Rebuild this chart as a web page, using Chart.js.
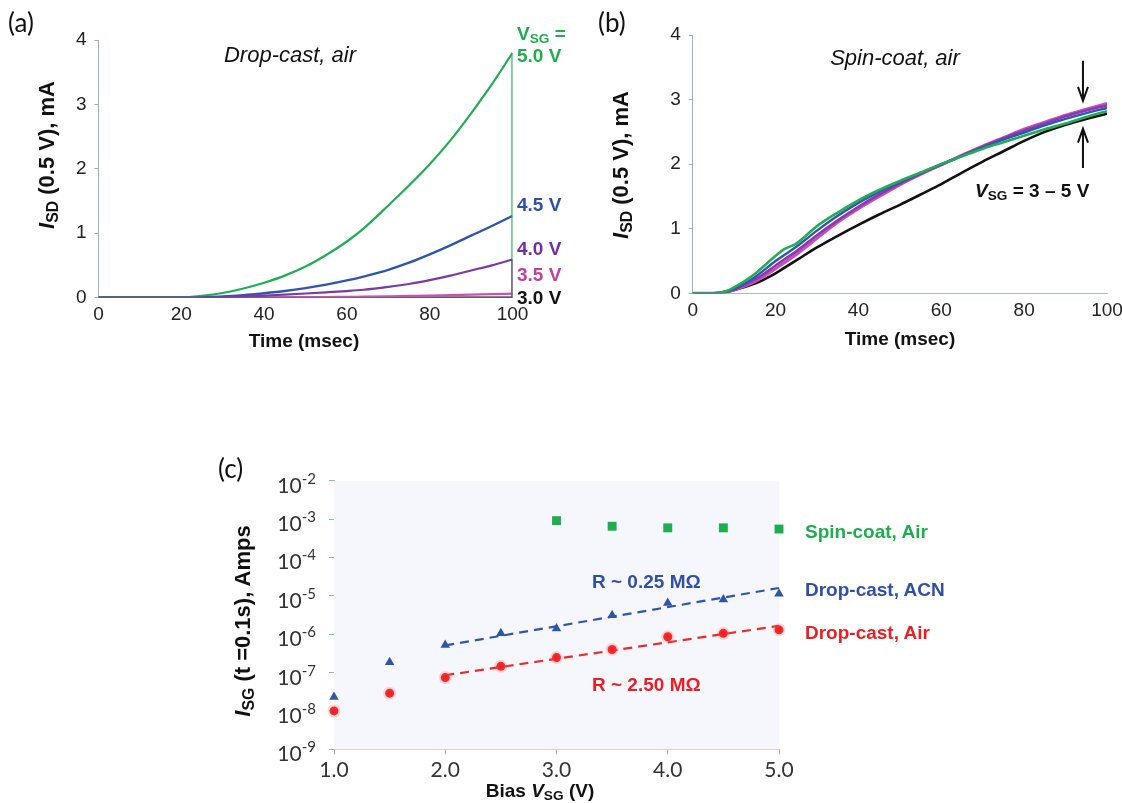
<!DOCTYPE html>
<html><head><meta charset="utf-8">
<script src="https://cdn.jsdelivr.net/npm/chart.js@4/dist/chart.umd.min.js"></script>
<style>
html,body{margin:0;padding:0;background:#fff;}
body{width:1122px;height:803px;overflow:hidden;position:relative;font-family:"Liberation Sans",Arial,sans-serif;color:#111;}
canvas{position:absolute;}
.t{position:absolute;white-space:nowrap;line-height:1;transform:translate(-50%,-50%);}
.l{position:absolute;white-space:nowrap;line-height:1;transform:translate(0,-50%);}
.rot{transform:translate(-50%,-50%) rotate(-90deg);}
.b{font-weight:bold;}
.pl{font-family:Lato,"Open Sans",sans-serif;font-size:26px;}
sub{font-size:0.72em;vertical-align:-0.28em;line-height:0;}
</style></head><body>
<canvas id="ca"></canvas>
<canvas id="cb"></canvas>
<canvas id="cc"></canvas>

<!-- panel (a) texts -->
<div class="l pl" style="left:8px;top:22px;">(a)</div>
<div class="t rot b" style="left:47px;top:155px;font-size:22px;"><i>I</i><sub>SD</sub> (0.5 V), mA</div>
<div class="t b" style="left:304px;top:340px;font-size:19px;">Time (msec)</div>
<div class="t" style="left:290px;top:55px;font-size:22px;font-style:italic;">Drop-cast, air</div>
<div class="l b" style="left:517px;top:33px;font-size:19px;color:#1fae4f;">V<sub>SG</sub> =</div>
<div class="l b" style="left:517px;top:55px;font-size:19px;color:#1fae4f;">5.0 V</div>
<div class="l b" style="left:517px;top:204px;font-size:19px;color:#2f4fa8;">4.5 V</div>
<div class="l b" style="left:517px;top:248px;font-size:19px;color:#7030a0;">4.0 V</div>
<div class="l b" style="left:517px;top:274px;font-size:19px;color:#c040a0;">3.5 V</div>
<div class="l b" style="left:517px;top:297px;font-size:19px;color:#111;">3.0 V</div>

<!-- panel (b) texts -->
<div class="l pl" style="left:598px;top:22px;">(b)</div>
<div class="t rot b" style="left:621px;top:165px;font-size:22px;"><i>I</i><sub>SD</sub> (0.5 V), mA</div>
<div class="t b" style="left:900px;top:338px;font-size:19px;">Time (msec)</div>
<div class="t" style="left:895px;top:58px;font-size:22px;font-style:italic;">Spin-coat, air</div>
<div class="l b" style="left:975px;top:190px;font-size:19px;"><i>V</i><sub>SG</sub> = 3 – 5 V</div>

<!-- panel (c) texts -->
<div class="l pl" style="left:218px;top:468px;">(c)</div>
<div class="t rot b" style="left:243px;top:621px;font-size:22px;"><i>I</i><sub>SG</sub> (t =0.1s), Amps</div>
<div class="t b" style="left:540px;top:790px;font-size:19px;">Bias <i>V</i><sub>SG</sub> (V)</div>
<div class="l b" style="left:805px;top:531px;font-size:19px;color:#1fae4f;">Spin-coat, Air</div>
<div class="l b" style="left:805px;top:589px;font-size:19px;color:#2f4fa8;">Drop-cast, ACN</div>
<div class="l b" style="left:805px;top:632px;font-size:19px;color:#ee1c24;">Drop-cast, Air</div>
<div class="l b" style="left:592px;top:581px;font-size:19px;color:#2f4fa8;">R ~ 0.25 MΩ</div>
<div class="l b" style="left:592px;top:684px;font-size:19px;color:#ee1c24;">R ~ 2.50 MΩ</div>

<script>
// ---------------- DATA ----------------
// Panel (a): Drop-cast, air  (time in msec, I_SD in mA)
const timeA = [0,5,10,15,20,25,30,35,40,45,50,55,60,64,70,75,80,85,90,95,100];
const a30 = [0,0,0,0,0,0,0,0,0,0,0,0,0,0,0,0,0,0,0,0,0];
const a35 = [0,0,0,0,0,0,0,0,0.002,0.004,0.006,0.008,0.011,0.013,0.018,0.024,0.03,0.037,0.045,0.052,0.06];
const a40 = [0,0,0,0,0,0.002,0.006,0.015,0.03,0.045,0.062,0.08,0.1,0.12,0.165,0.21,0.27,0.34,0.42,0.5,0.59];
const a45 = [0,0,0,0,0,0.005,0.015,0.035,0.065,0.1,0.145,0.2,0.265,0.325,0.43,0.54,0.67,0.81,0.96,1.11,1.27];
const a50 = [0,0,0,0,0,0.025,0.07,0.14,0.23,0.34,0.48,0.66,0.87,1.07,1.43,1.74,2.07,2.44,2.86,3.31,3.8];

// Panel (b): Spin-coat, air
const timeB = [0,5,8,10,15,20,22,25,30,35,40,45,50,55,60,65,70,75,80,85,90,95,100];
const b30 = [0,0,0.02,0.05,0.15,0.31,0.39,0.51,0.71,0.89,1.06,1.22,1.37,1.53,1.69,1.87,2.04,2.2,2.36,2.5,2.61,2.7,2.78];
const b35 = [0,0,0.02,0.05,0.18,0.38,0.47,0.6,0.85,1.1,1.31,1.5,1.68,1.84,1.99,2.14,2.28,2.41,2.54,2.65,2.76,2.85,2.94];
const b40 = [0,0,0.02,0.06,0.21,0.43,0.52,0.65,0.9,1.13,1.34,1.53,1.7,1.85,1.99,2.13,2.27,2.4,2.52,2.63,2.74,2.83,2.91];
const b45 = [0,0,0.03,0.07,0.25,0.5,0.59,0.72,0.97,1.2,1.4,1.57,1.72,1.86,2.0,2.13,2.26,2.38,2.49,2.6,2.7,2.79,2.87];
const b50 = [0,0,0.03,0.09,0.3,0.58,0.68,0.77,1.04,1.25,1.44,1.6,1.74,1.87,2.0,2.12,2.24,2.34,2.44,2.54,2.63,2.73,2.82];

// Panel (c): I_SG at t = 0.1 s vs bias
const biasC   = [1.0,1.5,2.0,2.5,3.0,3.5,4.0,4.5,5.0];
const spinAir = [null,null,null,null,9.1e-4,6.5e-4,5.9e-4,5.9e-4,5.5e-4];
const dropACN = [2.3e-8,1.85e-7,5.2e-7,1.05e-6,1.4e-6,3.1e-6,6.5e-6,8.0e-6,1.13e-5];
const dropAir = [1.0e-8,2.9e-8,7.4e-8,1.45e-7,2.45e-7,4.0e-7,8.6e-7,1.05e-6,1.3e-6];
const fitBias = [2.0,5.0];
const fitACN  = [5.1e-7,1.6e-5];
const fitAir  = [8.5e-8,1.65e-6];
const yTickExpC = [-2,-3,-4,-5,-6,-7,-8,-9];

// Panel (b) arrows (time, from, to)
const arrowsB = [{t:94.2, from:3.6, to:2.98},{t:94.2, from:1.94, to:2.55}];

// ---------------- HELPERS ----------------
const AX = '#8db7c7';
const TICKFONT = {family:'"Liberation Sans", Arial, sans-serif', size:19};
const pts = (xs, ys) => xs.map((x,i)=>({x, y: ys[i]})).filter(p=>p.y!==null);
const drop = (xs, ys) => [{x: xs[xs.length-1], y: ys[ys.length-1]}, {x: xs[xs.length-1], y: 0}];

function setupCanvas(id, box){
  const c=document.getElementById(id);
  c.width=box.w; c.height=box.h;
  Object.assign(c.style,{left:box.x+'px',top:box.y+'px',width:box.w+'px',height:box.h+'px'});
  return c;
}
function layoutFor(box, area){
  return {padding:{left:0, top:area.t-box.y, right:box.x+box.w-area.r, bottom:0},
          yw:area.l-box.x, xh:box.y+box.h-area.b};
}
const bgPlugin = {id:'bgfill', beforeDatasetsDraw(ch, args, opt){
  if(!opt || !opt.color) return;
  const a=ch.chartArea, ctx=ch.ctx; ctx.save(); ctx.fillStyle=opt.color;
  ctx.fillRect(a.left,a.top,a.right-a.left,a.bottom-a.top); ctx.restore();
}};
function line(data, color, w){
  return {data, showLine:true, borderColor:color, borderWidth:w||2.2, pointRadius:0, cubicInterpolationMode:'monotone', fill:false};
}
function seg(data, color, w){
  return {data, showLine:true, borderColor:color, borderWidth:w||2.2, pointRadius:0, tension:0, fill:false};
}

// ---------------- PANEL A ----------------
const boxA={x:0,y:0,w:560,h:360}, areaA={l:98.5,r:512.5,t:40,b:297.5};
const LA=layoutFor(boxA,areaA);
new Chart(setupCanvas('ca',boxA),{
  type:'scatter',
  data:{datasets:[
    line(pts(timeA,a40),'#7a3aa8',2.2),
    seg(drop(timeA,a40),'#7a3aa8',2.2),
    line(pts(timeA,a50),'#1fae55',2.2),
    seg(drop(timeA,a50),'#1fae55',2.2),
    line(pts(timeA,a45),'#2f55b0',2.4),
    line(pts(timeA,a35),'#d050b0',2.2),
    line(pts(timeA,a30),'#111111',2.2)
  ]},
  options:{responsive:false,animation:false,layout:{padding:LA.padding},
    plugins:{legend:{display:false},tooltip:{enabled:false}},
    scales:{
      x:{type:'linear',min:0,max:100,ticks:{stepSize:20,color:'#222',font:TICKFONT,padding:6},
         grid:{drawOnChartArea:false,drawTicks:false},border:{color:AX},afterFit:s=>{s.height=LA.xh;}},
      y:{type:'linear',min:0,max:4,ticks:{stepSize:1,color:'#222',font:TICKFONT,padding:8},
         grid:{drawOnChartArea:false,drawTicks:true,tickLength:4,color:AX},border:{color:AX},afterFit:s=>{s.width=LA.yw;}}
    }}
});

// ---------------- PANEL B ----------------
const boxB={x:580,y:0,w:560,h:360}, areaB={l:692.7,r:1107,t:35,b:293.3};
const LB=layoutFor(boxB,areaB);
const arrowPlugin={id:'arrows', afterDatasetsDraw(ch){
  const xs=ch.scales.x, ys=ch.scales.y, ctx=ch.ctx;
  arrowsB.forEach(a=>{
    const x=xs.getPixelForValue(a.t), y1=ys.getPixelForValue(a.from), y2=ys.getPixelForValue(a.to);
    const d=Math.sign(y2-y1);
    ctx.save(); ctx.strokeStyle='#111'; ctx.lineWidth=2; ctx.beginPath();
    ctx.moveTo(x,y1); ctx.lineTo(x,y2);
    ctx.moveTo(x-5,y2-d*14); ctx.lineTo(x,y2); ctx.lineTo(x+5,y2-d*14);
    ctx.stroke(); ctx.restore();
  });
}};
new Chart(setupCanvas('cb',boxB),{
  type:'scatter',
  data:{datasets:[
    line(pts(timeB,b50),'#1fae55',2.6),
    line(pts(timeB,b45),'#2f55b0',2.4),
    line(pts(timeB,b40),'#8a3ab0',2.6),
    line(pts(timeB,b35),'#cc4cb4',3),
    line(pts(timeB,b30),'#111111',2.6)
  ]},
  options:{responsive:false,animation:false,layout:{padding:LB.padding},
    plugins:{legend:{display:false},tooltip:{enabled:false}},
    scales:{
      x:{type:'linear',min:0,max:100,ticks:{stepSize:20,color:'#222',font:TICKFONT,padding:6},
         grid:{drawOnChartArea:false,drawTicks:false},border:{color:'#a8bcc4'},afterFit:s=>{s.height=LB.xh;}},
      y:{type:'linear',min:0,max:4,ticks:{stepSize:1,color:'#222',font:TICKFONT,padding:8},
         grid:{drawOnChartArea:false,drawTicks:true,tickLength:4,color:AX},border:{color:AX},afterFit:s=>{s.width=LB.yw;}}
    }},
  plugins:[arrowPlugin]
});

// ---------------- PANEL C ----------------
const boxC={x:200,y:440,w:620,h:363}, areaC={l:334,r:779,t:480.7,b:749.3};
const LC=layoutFor(boxC,areaC);
const logLabels={id:'logLabels', afterDraw(ch){
  const s=ch.scales.y, ctx=ch.ctx, xr=s.right-18;
  ctx.save(); ctx.fillStyle='#333'; ctx.textAlign='right'; ctx.textBaseline='alphabetic';
  s.ticks.forEach(t=>{
    const y=s.getPixelForValue(t.value);
    const e=Math.round(Math.log10(t.value));
    const sup=(e<0?'-':'')+Math.abs(e);
    ctx.font='15px Lato, "Open Sans", sans-serif';
    const sw=ctx.measureText(sup).width;
    ctx.fillText(sup, xr, y+3);
    ctx.font='21px Lato, "Open Sans", sans-serif';
    ctx.fillText('10', xr-sw, y+12);
  });
  ctx.restore();
}};
new Chart(setupCanvas('cc',boxC),{
  type:'scatter',
  data:{datasets:[
    {data:pts(biasC,spinAir),pointStyle:'rect',pointRadius:6.3,backgroundColor:'#1fae4f',borderWidth:0,clip:false},
    {data:pts(biasC,dropACN),pointStyle:'triangle',pointRadius:5.5,backgroundColor:'#2f55a8',borderWidth:0,clip:false},
    {data:pts(biasC,dropAir),pointStyle:'circle',pointRadius:4.5,backgroundColor:'#ee2222',borderColor:'rgba(255,90,90,0.22)',borderWidth:4,clip:false},
    {data:pts(fitBias,fitACN),showLine:true,borderColor:'#2f55b0',borderWidth:2.2,borderDash:[9,6],pointRadius:0},
    {data:pts(fitBias,fitAir),showLine:true,borderColor:'#ee2a2a',borderWidth:2.2,borderDash:[9,6],pointRadius:0}
  ]},
  options:{responsive:false,animation:false,layout:{padding:LC.padding},
    plugins:{legend:{display:false},tooltip:{enabled:false},bgfill:{color:'#f6f7fc'}},
    scales:{
      x:{type:'linear',min:1,max:5,ticks:{stepSize:1,color:'#333',font:{family:'Lato, "Open Sans", sans-serif',size:21},padding:3,callback:v=>v.toFixed(1)},
         grid:{drawOnChartArea:false,drawTicks:true,tickLength:5,color:'#9ab'},border:{color:'#dcbcb4'},afterFit:s=>{s.height=LC.xh;}},
      y:{type:'logarithmic',min:1e-9,max:1e-2,
         afterBuildTicks:s=>{s.ticks=yTickExpC.map(e=>({value:Math.pow(10,e)}));},
         ticks:{display:false},
         grid:{drawOnChartArea:false,drawTicks:true,tickLength:5,color:AX},border:{color:AX},afterFit:s=>{s.width=LC.yw;}}
    }},
  plugins:[bgPlugin, logLabels]
});
</script>
</body></html>
